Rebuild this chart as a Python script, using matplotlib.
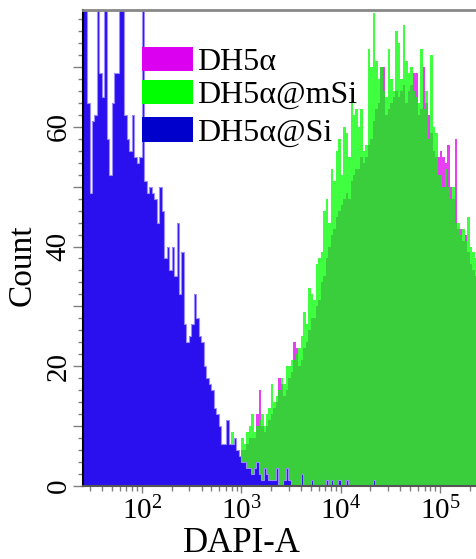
import numpy as np
import matplotlib.pyplot as plt
from matplotlib.patches import Rectangle
from matplotlib.ticker import MultipleLocator, LogLocator, FuncFormatter, NullFormatter

plt.rcParams['font.family'] = ['Liberation Serif', 'DejaVu Serif']
plt.rcParams['mathtext.fontset'] = 'custom'
plt.rcParams['mathtext.rm'] = 'Liberation Serif'

# log10 bin grid of the DAPI-A histograms (40 bins per decade)
bin_start = 1.4
bin_step = 0.025
n_bins = 161

# DH5α@Si counts, bins 0..117
si_counts = [
    96, 88, 64, 49, 61, 62, 88, 69, 65, 85,
    58, 52, 64, 69, 69, 90, 86, 62, 58, 56,
    62, 55, 54, 55, 84, 51, 49, 50, 49, 48,
    44, 50, 46, 38, 40, 36, 40, 35, 44, 32,
    39, 27, 24, 25, 27, 32, 28, 25, 24, 20,
    18, 17, 16, 13, 12, 10, 7, 7, 11, 7,
    7, 8, 6, 5, 4, 4, 3, 3, 2, 3,
    4, 2, 1, 3, 2, 1, 1, 1, 3, 0,
    0, 1, 3, 1, 0, 0, 0, 0, 2, 0,
    0, 0, 1, 0, 0, 0, 0, 0, 1, 0,
    1, 0, 0, 1, 0, 0, 1, 0, 0, 0,
    0, 0, 0, 0, 0, 0, 0, 1,
]

# DH5α@mSi counts, bins 58..160
msi_first = 58
msi_counts = [
    5, 6, 9, 7, 6, 5, 8, 7, 9, 10,
    12, 9, 10, 11, 12, 10, 12, 13, 17, 14,
    15, 16, 18, 17, 20, 20, 21, 21, 22, 23,
    25, 29, 27, 33, 32, 31, 37, 38, 39, 46,
    48, 44, 53, 51, 56, 58, 52, 60, 59, 55,
    64, 62, 63, 60, 63, 56, 57, 73, 70, 79,
    71, 68, 70, 66, 65, 73, 68, 66, 76, 74,
    68, 77, 71, 69, 70, 66, 65, 64, 73, 63,
    66, 58, 72, 60, 59, 52, 52, 50, 53, 50,
    48, 50, 44, 44, 42, 43, 41, 45, 40, 39,
    38, 30, 22,
]

# DH5α counts, bins 58..160
dh5a_first = 58
dh5a_counts = [
    6, 5, 6, 5, 5, 4, 6, 6, 7, 8,
    8, 8, 12, 16, 10, 9, 10, 11, 12, 13,
    14, 18, 17, 15, 16, 18, 19, 24, 23, 20,
    21, 23, 24, 26, 28, 28, 30, 31, 34, 35,
    38, 40, 42, 43, 45, 46, 47, 48, 49, 48,
    51, 52, 53, 53, 55, 54, 55, 57, 58, 61,
    63, 64, 70, 70, 62, 63, 64, 65, 66, 65,
    66, 67, 64, 66, 67, 69, 69, 62, 63, 70,
    64, 62, 59, 56, 55, 55, 56, 55, 54, 57,
    50, 48, 58, 43, 43, 41, 42, 39, 37, 36,
    35, 28, 20,
]

labels = ['DH5α', 'DH5α@mSi', 'DH5α@Si']
legend_colors = ['#DC00F0', '#00FF00', '#0000CC']


def full_hist(counts, first):
    arr = np.zeros(n_bins)
    arr[first:first + len(counts)] = counts
    return arr


edges = 10 ** (bin_start + bin_step * np.arange(n_bins + 1))

W, H = 476, 559
fig = plt.figure(figsize=(W / 100, H / 100), dpi=100)
ax = fig.add_axes([83 / W, 73 / H, 398.6 / W, 476 / H])

ax.stairs(full_hist(dh5a_counts, dh5a_first), edges, fill=True,
          color='#E000F0', alpha=0.75, lw=0)
ax.stairs(full_hist(msi_counts, msi_first), edges, fill=True,
          color='#00FF00', alpha=0.75, lw=0)
si_full = full_hist(si_counts, 0)
ax.stairs(si_full, edges, fill=True, color='#2A10EE', lw=0)
# light rim along the blue steps
ax.stairs(si_full, edges, color='#9A8CFF', lw=0.8)

ax.set_xscale('log')
ax.set_xlim(10 ** 1.4095, 262144)
ax.set_ylim(0, 79.5)

ax.xaxis.set_major_locator(LogLocator(base=10, numticks=10))
ax.xaxis.set_minor_locator(LogLocator(base=10, subs=np.arange(2, 10), numticks=20))
ax.xaxis.set_minor_formatter(NullFormatter())
ax.yaxis.set_major_locator(MultipleLocator(10))
ax.yaxis.set_minor_locator(MultipleLocator(2))
ax.yaxis.set_major_formatter(FuncFormatter(lambda v, _: f'{v:.0f}' if v % 20 == 0 else ''))

ax.tick_params(axis='both', which='both', direction='out', color='#808080', width=1)
ax.tick_params(axis='y', which='major', length=7.2, pad=1, labelsize=21)
ax.tick_params(axis='y', which='minor', length=3.6)
ax.tick_params(axis='x', which='major', length=5, pad=3, labelsize=21)
ax.tick_params(axis='x', which='minor', length=3.5)
for lab in ax.get_yticklabels():
    lab.set_rotation(90)
    lab.set_va('center')

ax.spines['left'].set_color('black')
ax.spines['left'].set_linewidth(1.5)
ax.spines['bottom'].set_color('#555555')
ax.spines['bottom'].set_linewidth(1.5)
ax.spines['top'].set_color('#888888')
ax.spines['top'].set_linewidth(2)
ax.spines['right'].set_visible(False)

ax.set_xlabel('DAPI-A', fontsize=25)
ax.xaxis.set_label_coords((242 - 83) / 398.6, -(543 - 486) / 476)
ax.xaxis.label.set_va('center')
ax.set_ylabel('Count', fontsize=24)
ax.yaxis.set_label_coords((22 - 83) / 398.6, (486 - 265) / 476)
ax.yaxis.label.set_va('center')

# legend boxes and labels
rows_y = [(47, 71), (80, 104), (117, 142)]
for (top, bot), lab, col in zip(rows_y, labels, legend_colors):
    fig.add_artist(Rectangle((142 / W, 1 - bot / H), 51 / W, (bot - top) / H,
                             transform=fig.transFigure, color=col, lw=0))
    fig.text(197 / W, 1 - (top + bot) / 2 / H, lab, fontsize=23,
             va='center_baseline', ha='left')

fig.savefig('out.png', dpi=100)
